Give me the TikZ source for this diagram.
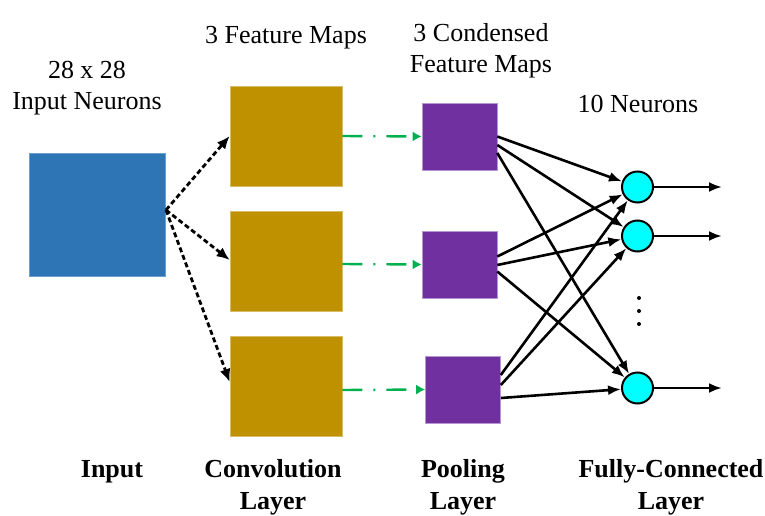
\documentclass[tikz,border=0pt]{standalone}
\usepackage{fontspec}
\setmainfont{Liberation Serif}
\newfontfamily\labelfont{Liberation Serif}
\usetikzlibrary{arrows.meta}
\definecolor{inblue}{HTML}{2E75B6}
\definecolor{convgold}{HTML}{BF9000}
\definecolor{poolpurple}{HTML}{7030A0}
\definecolor{linkgreen}{HTML}{00B050}
\definecolor{neuroncyan}{HTML}{00FFFF}
\tikzset{
  lbl/.style={font=\labelfont\fontsize{26}{31}\selectfont, align=center, inner sep=0pt},
  blbl/.style={font=\labelfont\fontsize{26}{32}\selectfont\bfseries, align=center, inner sep=0pt},
  inbox/.style={fill=inblue, draw=inblue!70!white, line width=0.6pt, minimum width=136pt, minimum height=123pt, inner sep=0pt},
  convbox/.style={fill=convgold, draw=convgold!60!white, line width=0.6pt, minimum width=112pt, minimum height=100pt, inner sep=0pt},
  poolbox/.style={fill=poolpurple, draw=poolpurple!50!white, line width=0.6pt, minimum width=75pt, minimum height=67pt, inner sep=0pt},
  neuron/.style={circle, fill=neuroncyan, draw=black, line width=2pt, minimum size=31pt, inner sep=0pt},
  feed/.style={black, line width=2.8pt, dash pattern=on 5pt off 3pt, -{Latex[length=13pt,width=11pt]}},
  subs/.style={linkgreen, line width=2.4pt, dash pattern=on 20pt off 11pt on 2pt off 11pt, -{Latex[length=9pt,width=10pt]}},
  link/.style={black, line width=2.6pt, -{Latex[length=13pt,width=10pt]}},
}
\begin{document}
\begin{tikzpicture}[x=1pt,y=-1pt]
\useasboundingbox (0,0) rectangle (765,516);

% input layer
\node[inbox] (in) at (97,214.5) {};
\coordinate (src) at (166,210);

% convolution feature maps
\node[convbox] (c1) at (286,136) {};
\node[convbox] (c2) at (286,261) {};
\node[convbox] (c3) at (286,386) {};

% pooling maps
\node[poolbox] (p1) at (459.5,136.5) {};
\node[poolbox] (p2) at (459.5,264.5) {};
\node[poolbox] (p3) at (463,389.5) {};

% output neurons
\node[neuron] (n1) at (637.5,187) {};
\node[neuron] (n2) at (637.5,236) {};
\node[neuron] (n3) at (637.5,388) {};

\coordinate (o1) at (722,187);
\coordinate (o2) at (722,236);
\coordinate (o3) at (722,388);

% input to convolution
\draw[feed] (src) -- (c1.west);
\draw[feed] (src) -- ([yshift=1pt]c2.west);
\draw[feed] (src) -- ([yshift=4pt]c3.west);

% convolution to pooling
\draw[subs] (c1.east) -- (p1.west);
\draw[subs] ([yshift=-3pt]c2.east) -- (p2.west);
\draw[subs] ([yshift=-4pt]c3.east) -- (p3.west);

% pooling to fully connected
\draw[link] ([yshift=0pt]p1.east) -- (n1);
\draw[link] ([yshift=-8.5pt]p1.east) -- (n2);
\draw[link] ([yshift=-16.5pt]p1.east) -- (n3);
\draw[link] ([yshift=8pt]p2.east) -- (n1);
\draw[link] ([yshift=-0.5pt]p2.east) -- (n2);
\draw[link] ([yshift=-7pt]p2.east) -- (n3);
\draw[link] ([yshift=14.5pt]p3.east) -- (n1);
\draw[link] ([yshift=4.5pt]p3.east) -- (n2);
\draw[link] ([yshift=-8.5pt]p3.east) -- (n3);

% outputs
\draw[link] (n1) -- (o1);
\draw[link] (n2) -- (o2);
\draw[link] (n3) -- (o3);

% ellipsis between neurons
\node[circle, fill=black, inner sep=0pt, minimum size=4pt] (d1) at (639,298) {};
\node[circle, fill=black, inner sep=0pt, minimum size=4pt] (d2) at (639,311) {};
\node[circle, fill=black, inner sep=0pt, minimum size=4pt] (d3) at (639,324) {};

% titles
\node[lbl] (tin) at (87,88) {28 x 28\\Input Neurons};
\node[lbl] (tconv) at (286,38) {3 Feature Maps};
\node[lbl] (tpool) at (481,51) {3 Condensed\\Feature Maps};
\node[lbl] (tfc) at (638,104) {10 Neurons};

% layer names
\node[blbl] (bin) at (112,472) {Input};
\node[blbl] (bconv) at (273,487) {Convolution\\Layer};
\node[blbl] (bpool) at (463,487) {Pooling\\Layer};
\node[blbl] (bfc) at (671,487) {Fully-Connected\\Layer};
\end{tikzpicture}
\end{document}
